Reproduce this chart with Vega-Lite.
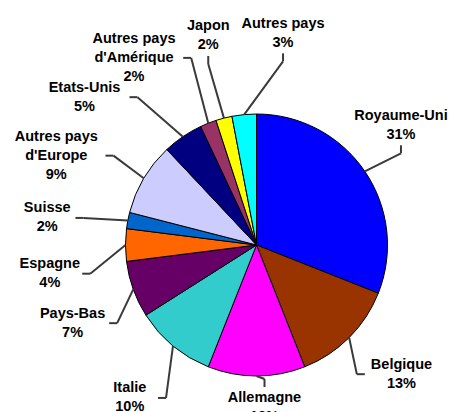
{
  "$schema": "https://vega.github.io/schema/vega-lite/v6.json",
  "width": 389,
  "height": 334,
  "autosize": {"type": "none"},
  "padding": {"left": 62, "top": 78, "right": 0, "bottom": 0},
  "background": "white",
  "config": {"view": {"stroke": null}},
  "data": {
    "values": [
      {"country": "Royaume-Uni", "share": 31},
      {"country": "Belgique", "share": 13},
      {"country": "Allemagne", "share": 12},
      {"country": "Italie", "share": 10},
      {"country": "Pays-Bas", "share": 7},
      {"country": "Espagne", "share": 4},
      {"country": "Suisse", "share": 2},
      {"country": "Autres pays d'Europe", "share": 9},
      {"country": "Etats-Unis", "share": 5},
      {"country": "Autres pays d'Amérique", "share": 2},
      {"country": "Japon", "share": 2},
      {"country": "Autres pays", "share": 3}
    ]
  },
  "transform": [
    {"window": [{"op": "row_number", "as": "idx"}, {"op": "sum", "field": "share", "as": "cum"}], "frame": [null, 0]},
    {"joinaggregate": [{"op": "sum", "field": "share", "as": "total"}]},
    {"calculate": "(datum.cum - datum.share / 2) / datum.total * 360", "as": "mid"},
    {"calculate": "datum.mid - (datum.idx - 1) * 17.5", "as": "k"},
    {"window": [{"op": "max", "field": "k", "as": "kmax"}], "frame": [null, 0], "sort": [{"field": "idx"}]},
    {"window": [{"op": "min", "field": "k", "as": "kmin"}], "frame": [0, null], "sort": [{"field": "idx"}]},
    {"calculate": "((datum.idx - 1) * 17.5 + (datum.kmax + datum.kmin) / 2) * PI / 180", "as": "lar"},
    {"calculate": "datum.mid * PI / 180", "as": "mr"},
    {"calculate": "131 * sin(datum.mr)", "as": "ex"},
    {"calculate": "-131 * cos(datum.mr)", "as": "ey"},
    {"calculate": "cos(datum.lar) < -0.95 ? false : (cos(datum.lar) < 0 || sin(datum.lar) < -0.45)", "as": "side"},
    {"calculate": "sin(datum.lar) < 0 ? 210 + (datum.side ? 60 * pow(max(cos(datum.lar), 0), 2) : 0) : (cos(datum.lar) < 0 ? 205 : 165)", "as": "rx"},
    {"calculate": "datum.rx * sin(datum.lar) + (datum.side ? 0 : (sin(datum.lar) >= 0 ? 8 : -8))", "as": "lx"},
    {"calculate": "cos(datum.lar) > 0 ? 213 : (datum.side ? 162 + 100 * max(0, -cos(datum.lar) - 0.5) : 162)", "as": "ry"},
    {"calculate": "-datum.ry * cos(datum.lar)", "as": "ly"},
    {"calculate": "indexof(datum.country, \" d'\")", "as": "dpos"},
    {"calculate": "(datum.dpos > 0 ? replace(datum.country, \" d'\", \"\\nd'\") : datum.country) + \"\\n\" + datum.share + \"%\"", "as": "label"},
    {"calculate": "datum.dpos > 0 ? 3 : 2", "as": "nl"},
    {"calculate": "datum.ly - (datum.nl - 1) * 19 / 2", "as": "ty"},
    {"calculate": "datum.dpos > 0 ? max(datum.dpos, length(datum.country) - datum.dpos - 1) : length(datum.country)", "as": "nch"},
    {"calculate": "datum.nch * 4.2 + 3", "as": "hw"},
    {"calculate": "datum.nl * 9.5 + 1", "as": "hh"},
    {"calculate": "datum.side ? datum.lx - (datum.lx > 0 ? 1 : -1) * datum.hw : datum.lx", "as": "ax"},
    {"calculate": "datum.side ? datum.ly : datum.ly - (datum.ly > 0 ? 1 : -1) * datum.hh", "as": "ay"},
    {"calculate": "datum.side ? datum.ax - (datum.lx > 0 ? 1 : -1) * 8 : datum.ax", "as": "bx"},
    {"calculate": "datum.side ? datum.ay : datum.ay - (datum.ly > 0 ? 1 : -1) * 8", "as": "by"}
  ],
  "layer": [
    {
      "mark": {"type": "arc", "outerRadius": 131, "stroke": "black", "strokeWidth": 1},
      "encoding": {
        "theta": {"field": "share", "type": "quantitative", "stack": true},
        "order": {"field": "idx", "type": "quantitative"},
        "color": {
          "field": "country",
          "type": "nominal",
          "legend": null,
          "scale": {
            "domain": ["Royaume-Uni", "Belgique", "Allemagne", "Italie", "Pays-Bas", "Espagne", "Suisse", "Autres pays d'Europe", "Etats-Unis", "Autres pays d'Amérique", "Japon", "Autres pays"],
            "range": ["#0000FF", "#993300", "#FF00FF", "#33CCCC", "#660066", "#FF6600", "#0066CC", "#CCCCFF", "#000080", "#993366", "#FFFF00", "#00FFFF"]
          }
        }
      }
    },
    {
      "mark": {"type": "rule", "stroke": "#3a3a3a", "strokeWidth": 2},
      "encoding": {
        "x": {"field": "ex", "type": "quantitative", "scale": {"domain": [-194.5, 194.5], "nice": false, "zero": false}, "axis": null},
        "y": {"field": "ey", "type": "quantitative", "scale": {"domain": [-167, 167], "nice": false, "zero": false, "reverse": true}, "axis": null},
        "x2": {"field": "bx"},
        "y2": {"field": "by"}
      }
    },
    {
      "mark": {"type": "rule", "stroke": "#3a3a3a", "strokeWidth": 2},
      "encoding": {
        "x": {"field": "bx", "type": "quantitative"},
        "y": {"field": "by", "type": "quantitative"},
        "x2": {"field": "ax"},
        "y2": {"field": "ay"}
      }
    },
    {
      "mark": {"type": "text", "font": "Liberation Sans", "fontWeight": "bold", "fontSize": 14.5, "lineHeight": 19, "lineBreak": "\n", "align": "center", "baseline": "middle", "color": "black"},
      "encoding": {
        "x": {"field": "lx", "type": "quantitative"},
        "y": {"field": "ty", "type": "quantitative"},
        "text": {"field": "label"}
      }
    }
  ]
}
